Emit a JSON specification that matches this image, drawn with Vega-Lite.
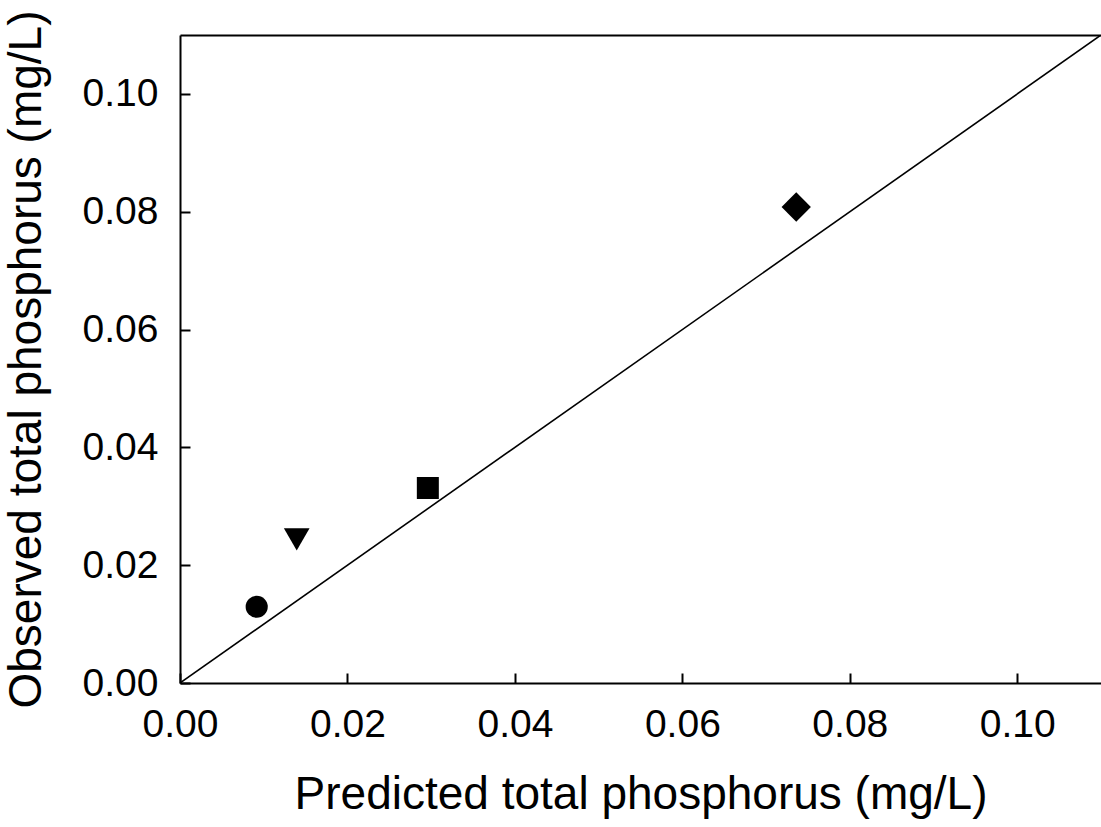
{
  "$schema": "https://vega.github.io/schema/vega-lite/v6.json",
  "width": 921,
  "height": 648,
  "autosize": {"type": "none"},
  "padding": {"left": 180, "top": 35, "right": 0, "bottom": 144},
  "background": "white",
  "config": {
    "view": {"stroke": null},
    "font": "Liberation Sans",
    "axis": {
      "grid": false,
      "domainColor": "black",
      "domainWidth": 2,
      "tickColor": "black",
      "tickWidth": 2,
      "tickSize": 10,
      "labelFlush": false,
      "labelOverlap": false,
      "labelFont": "Liberation Sans",
      "labelFontSize": 39,
      "labelColor": "black",
      "titleFont": "Liberation Sans",
      "titleFontSize": 46,
      "titleFontWeight": "normal",
      "titleColor": "black"
    }
  },
  "resolve": {"axis": {"x": "independent", "y": "independent"}},
  "layer": [
    {
      "data": {"values": [{"x": 0, "y": 0}, {"x": 0.11, "y": 0.11}]},
      "mark": {"type": "line", "color": "black", "strokeWidth": 1.6, "clip": true},
      "encoding": {
        "x": {
          "field": "x", "type": "quantitative",
          "scale": {"domain": [0, 0.11], "nice": false, "zero": false},
          "axis": {"orient": "top", "labels": false, "ticks": false, "title": null, "domain": true}
        },
        "y": {
          "field": "y", "type": "quantitative",
          "scale": {"domain": [0, 0.11], "nice": false, "zero": false},
          "axis": {"orient": "left", "title": "Observed total phosphorus (mg/L)", "values": [0, 0.02, 0.04, 0.06, 0.08, 0.1], "format": ".2f", "ticks": false, "labelPadding": 22, "titlePadding": 32}
        }
      }
    },
    {
      "data": {"values": [{"x": 0, "y": 0}, {"x": 0.11, "y": 0.11}]},
      "mark": {"type": "line", "color": "black", "strokeOpacity": 0},
      "encoding": {
        "x": {
          "field": "x", "type": "quantitative",
          "scale": {"domain": [0, 0.11], "nice": false, "zero": false},
          "axis": {"orient": "top", "offset": -648, "labels": false, "ticks": true, "domain": false, "title": null, "values": [0, 0.02, 0.04, 0.06, 0.08, 0.1]}
        },
        "y": {
          "field": "y", "type": "quantitative",
          "scale": {"domain": [0, 0.11], "nice": false, "zero": false},
          "axis": {"orient": "right", "offset": -921, "labels": false, "ticks": true, "domain": false, "title": null, "values": [0, 0.02, 0.04, 0.06, 0.08, 0.1]}
        }
      }
    },
    {
      "data": {"values": [
        {"site": "A", "x": 0.00916, "y": 0.01295},
        {"site": "B", "x": 0.01394, "y": 0.0244},
        {"site": "C", "x": 0.0296, "y": 0.0331},
        {"site": "D", "x": 0.0736, "y": 0.0808}
      ]},
      "mark": {"type": "point", "filled": true, "opacity": 1, "color": "black", "strokeWidth": 0},
      "encoding": {
        "x": {
          "field": "x", "type": "quantitative",
          "scale": {"domain": [0, 0.11], "nice": false, "zero": false},
          "axis": {"orient": "bottom", "title": "Predicted total phosphorus (mg/L)", "values": [0, 0.02, 0.04, 0.06, 0.08, 0.1], "format": ".2f", "ticks": false, "labelPadding": 22, "titlePadding": 28}
        },
        "y": {
          "field": "y", "type": "quantitative",
          "scale": {"domain": [0, 0.11], "nice": false, "zero": false},
          "axis": null
        },
        "shape": {
          "field": "site", "type": "nominal",
          "scale": {"domain": ["A", "B", "C", "D"], "range": ["circle", "triangle-down", "square", "diamond"]},
          "legend": null
        },
        "size": {
          "field": "site", "type": "ordinal",
          "scale": {"type": "ordinal", "domain": ["A", "B", "C", "D"], "range": [490, 660, 484, 860]},
          "legend": null
        }
      }
    }
  ]
}
